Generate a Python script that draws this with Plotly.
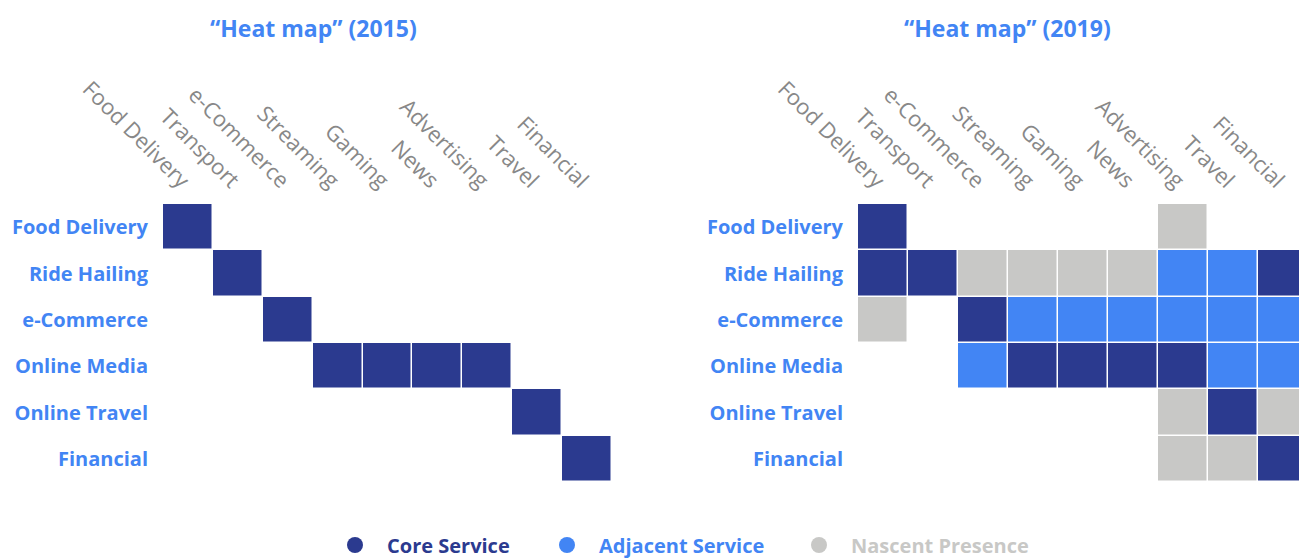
import plotly.graph_objects as go

# ---- data ----
services = ["Food Delivery", "Transport", "e-Commerce", "Streaming", "Gaming",
            "News", "Advertising", "Travel", "Financial"]
companies = ["Food Delivery", "Ride Hailing", "e-Commerce", "Online Media",
             "Online Travel", "Financial"]
# 3 = Core Service, 2 = Adjacent Service, 1 = Nascent Presence, None = none
heat_2015 = [
    [3, None, None, None, None, None, None, None, None],
    [None, 3, None, None, None, None, None, None, None],
    [None, None, 3, None, None, None, None, None, None],
    [None, None, None, 3, 3, 3, 3, None, None],
    [None, None, None, None, None, None, None, 3, None],
    [None, None, None, None, None, None, None, None, 3],
]
heat_2019 = [
    [3, None, None, None, None, None, 1, None, None],
    [3, 3, 1, 1, 1, 1, 2, 2, 3],
    [1, None, 3, 2, 2, 2, 2, 2, 2],
    [None, None, 2, 3, 3, 3, 3, 2, 2],
    [None, None, None, None, None, None, 1, 3, 1],
    [None, None, None, None, None, None, 1, 1, 3],
]
legend_labels = ["Core Service", "Adjacent Service", "Nascent Presence"]
titles = ["\u201cHeat map\u201d (2015)", "\u201cHeat map\u201d (2019)"]

CORE = "#2B3A8F"
ADJ = "#4285F4"
NASC = "#C8C8C6"
BLUE = "#4285F4"
GRAY = "#888888"
FONT = "Open Sans"

# page is rendered with an 8px body margin
OFF = 8
W, H = 1307 - OFF, 559 - OFF


def px(x):
    return (x - OFF) / W


def py(y):
    return 1 - (y - OFF) / H


colorscale = [[0, NASC], [0.5, ADJ], [1, CORE]]

fig = go.Figure()
for i, z in enumerate([heat_2015, heat_2019]):
    fig.add_trace(go.Heatmap(
        z=z, x=services, y=companies, colorscale=colorscale, zmin=1, zmax=3,
        showscale=False, xgap=1.5, ygap=1.5, hoverinfo="skip",
        xaxis="x" if i == 0 else "x2", yaxis="y" if i == 0 else "y2",
    ))

leg_colors = [CORE, ADJ, NASC]
for k, (lab, c) in enumerate(zip(legend_labels, leg_colors)):
    fig.add_trace(go.Scatter(
        x=[None], y=[None], mode="markers", name=lab,
        marker=dict(color=c, size=16, symbol="circle"),
        legend="legend" if k == 0 else f"legend{k+1}", showlegend=True,
        xaxis="x", yaxis="y",
    ))

xcommon = dict(side="top", tickangle=45, showgrid=False, zeroline=False,
               showline=False, ticks="", ticklabelstandoff=6, automargin=False,
               tickfont=dict(family=FONT, size=22, color=GRAY),
               fixedrange=True)
ycommon = dict(showgrid=False, zeroline=False, showline=False, ticks="",
               autorange="reversed", ticklabelstandoff=14, automargin=False,
               tickfont=dict(family=FONT, size=20, color=BLUE, weight="bold"),
               fixedrange=True)

leg_x = [355, 567, 819]
legends = {}
for k, (c, x) in enumerate(zip(leg_colors, leg_x)):
    key = "legend" if k == 0 else f"legend{k+1}"
    legends[key] = dict(
        x=px(x - 32), xanchor="left", y=py(545), yanchor="middle",
        orientation="h", bgcolor="rgba(0,0,0,0)", borderwidth=0,
        itemwidth=54,
        font=dict(family=FONT, size=20, color=c, weight="bold"),
    )

fig.update_layout(
    width=W, height=H, margin=dict(l=0, r=0, t=0, b=0, autoexpand=False),
    paper_bgcolor="white", plot_bgcolor="white",
    xaxis=dict(domain=[px(163), px(612)], range=[-0.5, 8.5], **xcommon),
    yaxis=dict(domain=[py(482), py(204)], **ycommon),
    xaxis2=dict(domain=[px(858), 1.0], range=[-0.5, -0.5 + 449 / 50], anchor="y2", **xcommon),
    yaxis2=dict(domain=[py(482), py(204)], anchor="x2", **ycommon),
    annotations=[
        dict(text=titles[0], x=px(313), y=py(28), xref="paper", yref="paper",
             showarrow=False, xanchor="center", yanchor="middle",
             font=dict(family=FONT, size=23, color=BLUE, weight="bold")),
        dict(text=titles[1], x=px(1007), y=py(28), xref="paper", yref="paper",
             showarrow=False, xanchor="center", yanchor="middle",
             font=dict(family=FONT, size=23, color=BLUE, weight="bold")),
    ],
    **legends,
)

fig.write_html("out.html")
